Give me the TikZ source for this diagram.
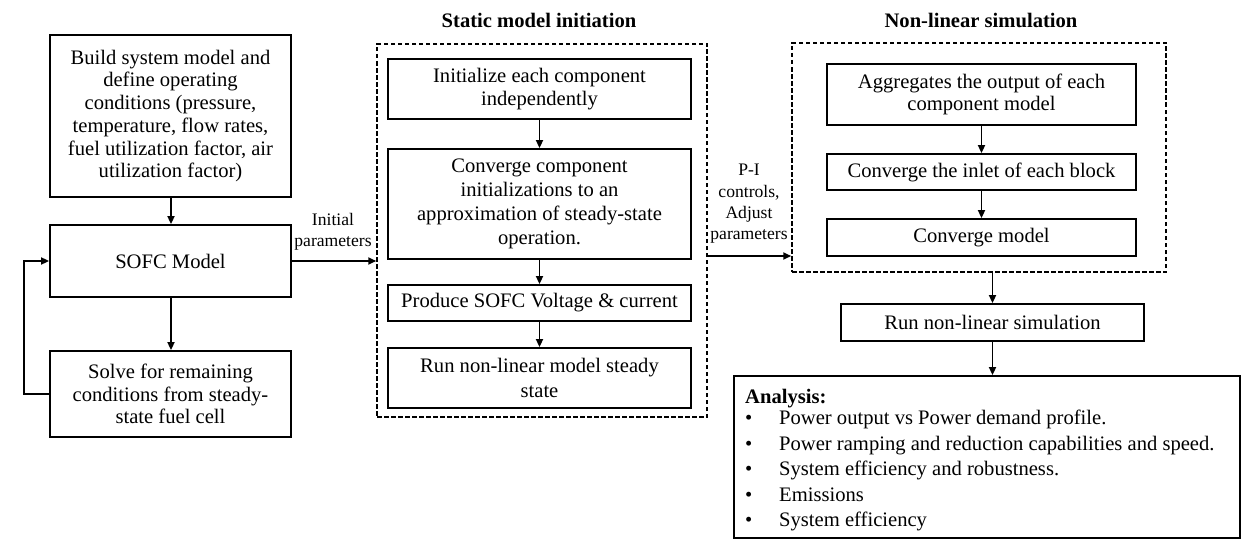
\documentclass[tikz,border=0pt]{standalone}
\usepackage{fontspec}
\setmainfont{Liberation Serif}
\usetikzlibrary{arrows.meta}
\begin{document}
\begin{tikzpicture}[x=1pt,y=-1pt,
  txt/.style={font=\fontsize{20.6}{22.7}\selectfont},
  widetxt/.style={font=\fontsize{20.6}{24.2}\selectfont},
  box/.style={draw,line width=1.8pt,txt,align=center,inner sep=2pt},
  group/.style={draw,line width=1.5pt,dash pattern=on 4.5pt off 2.5pt},
  title/.style={font=\fontsize{20.6}{22.7}\selectfont\bfseries},
  lbl/.style={font=\fontsize{17.6}{21.3}\selectfont,align=center,inner sep=0pt},
  arr/.style={line width=1.7pt,-{Triangle[length=8pt,width=7pt]}}]
\useasboundingbox (0,0) rectangle (1248,551);

% left column
\node[box,minimum width=241,minimum height=162] (build) at (170.5,116)
  {Build system model and\\define operating\\conditions (pressure,\\temperature, flow rates,\\fuel utilization factor, air\\utilization factor)};
\node[box,minimum width=241,minimum height=72] (sofc) at (170.5,261) {SOFC Model};
\node[box,minimum width=241,minimum height=86] (solve) at (170.5,394)
  {Solve for remaining\\conditions from steady-\\state fuel cell};

\draw[arr] (build.south -| 171,0) -- (sofc.north -| 171,0);
\draw[arr] (sofc.south -| 171,0) -- (solve.north -| 171,0);
\draw[arr] (solve.west) -- ++(-25,0) |- (sofc.west);

% static model initiation
\node[group,minimum width=330,minimum height=373] (static) at (542,230.5) {};
\node[title] (stitle) at (539,20) {Static model initiation};
\node[box,minimum width=303,minimum height=60] (init) at (539.5,89)
  {Initialize each component\\independently};
\node[box,widetxt,minimum width=303,minimum height=110] (conv) at (539.5,204)
  {Converge component\\initializations to an\\approximation of steady-state\\operation.};
\node[box,minimum width=303,minimum height=36] (prod) at (539.5,303)
  {Produce SOFC Voltage \& current};
\node[box,widetxt,minimum width=303,minimum height=60] (runss) at (539.5,378)
  {Run non-linear model steady\\state};
\draw[arr] (init) -- (conv);
\draw[arr] (conv) -- (prod);
\draw[arr] (prod) -- (runss);

\draw[arr] (sofc.east) -- (sofc.east -| static.west);
\node[lbl] (initlbl) at (333,232) {Initial\\parameters};

% non-linear simulation
\node[group,minimum width=374,minimum height=229] (nonlin) at (979,157.5) {};
\node[title] (ntitle) at (981,20) {Non-linear simulation};
\node[box,minimum width=309,minimum height=61] (agg) at (981.5,94.5)
  {Aggregates the output of each\\component model};
\node[box,minimum width=309,minimum height=36] (inlet) at (981.5,172)
  {Converge the inlet of each block};
\node[box,minimum width=309,minimum height=37] (cmodel) at (981.5,237.5)
  {Converge model};
\draw[arr] (agg) -- (inlet);
\draw[arr] (inlet) -- (cmodel);

\coordinate (pistart) at (707,256);
\draw[arr] (pistart) -- (pistart -| nonlin.west);
\node[lbl] (pilbl) at (749,204) {P-I\\controls,\\Adjust\\parameters};

% simulation run and analysis
\node[box,minimum width=303,minimum height=37] (run) at (992.5,322.5)
  {Run non-linear simulation};
\node[draw,line width=1.8pt,minimum width=506,minimum height=162] (analysis) at (987,457) {};
\node[anchor=north west,align=left,inner sep=0pt,
      font=\fontsize{20.6}{25.4}\selectfont] (alist) at (745,389)
  {\textbf{Analysis:}\\[-4pt]
   \makebox[34pt][l]{\textbullet}Power output vs Power demand profile.\\
   \makebox[34pt][l]{\textbullet}Power ramping and reduction capabilities and speed.\\
   \makebox[34pt][l]{\textbullet}System efficiency and robustness.\\
   \makebox[34pt][l]{\textbullet}Emissions\\
   \makebox[34pt][l]{\textbullet}System efficiency};

\draw[arr] (nonlin.south -| run.north) -- (run.north);
\draw[arr] (run.south) -- (run.south |- analysis.north);
\end{tikzpicture}
\end{document}
